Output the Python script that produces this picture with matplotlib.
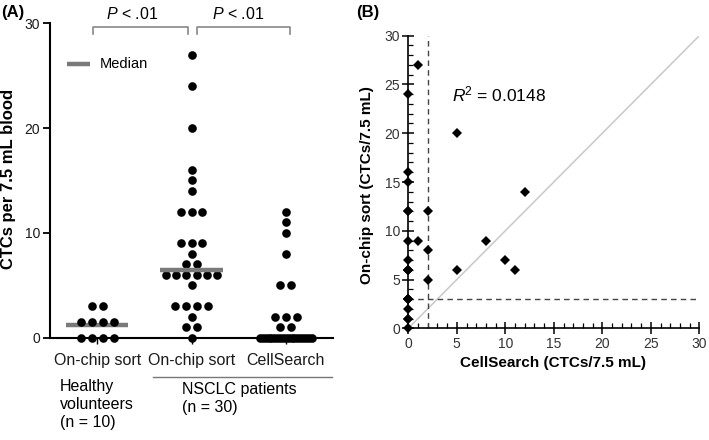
import numpy as np
import matplotlib
matplotlib.use("Agg")
import matplotlib.pyplot as plt
from matplotlib.ticker import MultipleLocator

plt.rcParams["font.family"] = ["Liberation Sans", "DejaVu Sans"]
plt.rcParams["mathtext.fontset"] = "custom"
plt.rcParams["mathtext.rm"] = "Liberation Sans"
plt.rcParams["mathtext.it"] = "Liberation Sans:italic"

# ---- data ----
groups = ["On-chip sort", "On-chip sort", "CellSearch"]
healthy_onchip = [0, 0, 0, 0, 1.5, 1.5, 1.5, 1.5, 3, 3]
# paired NSCLC patients (n = 30): on-chip sort vs CellSearch
nsclc_onchip = [27, 24, 20, 16, 15, 14, 12, 12, 12, 9, 9, 9, 8, 7, 7,
                6, 6, 6, 6, 6, 6, 5, 3, 3, 3, 3, 2, 1, 1, 0]
nsclc_cellsearch = [1, 0, 5, 0, 0, 12, 0, 0, 2, 0, 1, 8, 2, 0, 10,
                    0, 0, 0, 0, 5, 11, 2, 0, 0, 0, 0, 0, 0, 0, 0]
medians = [1.2, 6.5, 0]
r_squared = 0.0148
cutoff_cellsearch = 2
cutoff_onchip = 3

W, H = 709, 440
fig = plt.figure(figsize=(W / 100, H / 100), dpi=100)


def px_axes(left, top, right, bottom):
    """Axes placed by pixel edges of the figure."""
    return fig.add_axes([left / W, 1 - bottom / H, (right - left) / W, (bottom - top) / H])


def swarm_offsets(values, step, max_half):
    """Simple row-wise beeswarm: equal values spread side by side, squeezed if too wide."""
    values = np.asarray(values, float)
    offs = np.zeros(len(values))
    for v in np.unique(values):
        idx = np.where(values == v)[0]
        o = (np.arange(len(idx)) - (len(idx) - 1) / 2) * step
        if len(idx) > 1 and o.max() > max_half:
            o = o * max_half / o.max()
        offs[idx] = o
    return offs


# ================= panel A =================
axA = px_axes(50, 23.3, 333, 337.7)
cat_px = 94.5  # pixels per category
step = 11 / cat_px
max_half = 26 / cat_px
grey = "#7a7a7a"

for i, vals in enumerate([healthy_onchip, nsclc_onchip, nsclc_cellsearch]):
    xs = i + swarm_offsets(vals, step, max_half)
    axA.plot(xs, vals, "o", color="black", ms=6.2, mew=0, clip_on=False, zorder=4)
    half = 0.33 if i < 2 else 0.30
    axA.plot([i - half, i + half], [medians[i]] * 2, color=grey, lw=3.2,
             solid_capstyle="butt", clip_on=False, zorder=5 if i == 1 else 3)

axA.set_xlim(-0.5, 2.5)
axA.set_ylim(0, 30)
axA.set_yticks([0, 10, 20, 30])
axA.set_xticks(range(3))
axA.set_xticklabels(groups, fontsize=11.5, color="#1a1a1a")
axA.tick_params(axis="y", length=5, width=1.3, pad=2, labelsize=10, labelcolor="#1a1a1a")
axA.tick_params(axis="x", length=4, width=1.0, pad=7)
for s in ["top", "right"]:
    axA.spines[s].set_visible(False)
for s in ["left", "bottom"]:
    axA.spines[s].set_linewidth(1.5)
axA.set_ylabel("CTCs per 7.5 mL blood", fontsize=12, fontweight="bold")
axA.yaxis.set_label_coords(-0.12, 0.505)

# significance brackets
bk = "#888888"
for x0, x1, tx in [(-0.04, 0.96, 0.37), (1.06, 2.04, 1.49)]:
    axA.plot([x0, x0, x1, x1], [29.0, 29.65, 29.65, 29.0], color=bk, lw=1.2, clip_on=False)
    axA.text(tx, 30.85, "$P$ < .01", ha="center", va="center", fontsize=11.5, clip_on=False)

# median key
axA.plot([-0.32, -0.075], [26.1, 26.1], color=grey, lw=3.2, solid_capstyle="butt")
axA.text(0.03, 26.1, "Median", va="center", ha="left", fontsize=10.5)

# group captions under the axis
fig.text(60 / W, 1 - 379 / H, "Healthy\nvolunteers\n(n = 10)", ha="left", va="top",
         fontsize=11.5, linespacing=1.25)
fig.text(182 / W, 1 - 382 / H, "NSCLC patients\n(n = 30)", ha="left", va="top",
         fontsize=11.5, linespacing=1.25)
fig.add_artist(plt.Line2D([153 / W, 332 / W], [1 - 377 / H] * 2, color="#777777", lw=1.0))
fig.text(1 / W, 1 - 12 / H, "(A)", fontsize=12, fontweight="bold", va="center", ha="left")

# ================= panel B =================
axB = px_axes(408.3, 35.7, 699.3, 328.3)
axB.plot([0, 30], [0, 30], color="#c8c8c8", lw=1.1, zorder=1)
axB.axvline(cutoff_cellsearch, color="#444444", lw=1.0, ls=(0, (4, 3)), zorder=2)
axB.axhline(cutoff_onchip, color="#444444", lw=1.0, ls=(0, (4, 3)), zorder=2)
axB.plot(nsclc_cellsearch, nsclc_onchip, "D", color="black", ms=5.6, mew=0,
         clip_on=False, zorder=4)
axB.text(4.5, 24, "$R$$^2$ = %.4f" % r_squared, fontsize=12.5, va="center", ha="left")

axB.set_xlim(0, 30)
axB.set_ylim(0, 30)
for a in (axB.xaxis, axB.yaxis):
    a.set_major_locator(MultipleLocator(5))
    a.set_minor_locator(MultipleLocator(1))
axB.tick_params(which="major", direction="inout", length=8, width=1.1,
                labelsize=10, labelcolor="#333333", pad=2)
axB.tick_params(which="minor", direction="in", length=3.5, width=0.9)
for s in ["top", "right"]:
    axB.spines[s].set_visible(False)
for s in ["left", "bottom"]:
    axB.spines[s].set_linewidth(1.2)
axB.set_xlabel("CellSearch (CTCs/7.5 mL)", fontsize=11, fontweight="bold")
axB.xaxis.set_label_coords(0.497, -0.095)
axB.set_ylabel("On-chip sort (CTCs/7.5 mL)", fontsize=11, fontweight="bold")
axB.yaxis.set_label_coords(-0.118, 0.49)
fig.text(356 / W, 1 - 12 / H, "(B)", fontsize=12, fontweight="bold", va="center", ha="left")

fig.savefig("out.png", dpi=100)
